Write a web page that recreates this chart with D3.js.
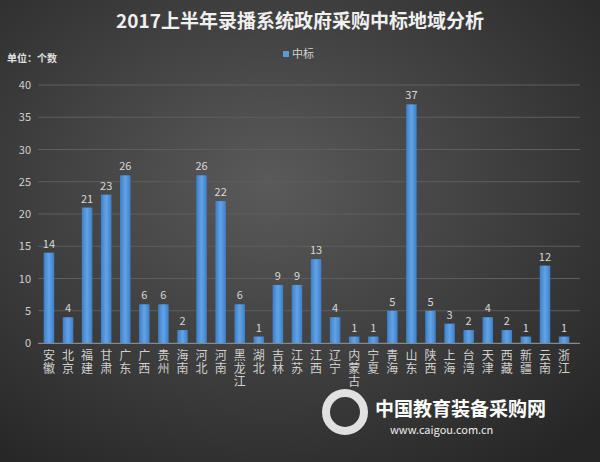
<!DOCTYPE html>
<html><head><meta charset="utf-8">
<script src="https://cdn.jsdelivr.net/npm/d3@7"></script>
<style>body{margin:0;background:#333}</style></head>
<body><svg id="c" width="600" height="462"></svg>
<script>
const categories=["安徽","北京","福建","甘肃","广东","广西","贵州","海南","河北","河南","黑龙江","湖北","吉林","江苏","江西","辽宁","内蒙古","宁夏","青海","山东","陕西","上海","台湾","天津","西藏","新疆","云南","浙江"];
const values=[14,4,21,23,26,6,6,2,26,22,6,1,9,9,13,4,1,1,5,37,5,3,2,4,2,1,12,1];
const yTicks=[0,5,10,15,20,25,30,35,40];
const svg=d3.select("#c");
const defs=svg.append("defs");
const rg=defs.append("radialGradient").attr("id","bg").attr("cx","45%").attr("cy","40%").attr("r","75%");
rg.append("stop").attr("offset","0%").attr("stop-color","#5a5a5a");
rg.append("stop").attr("offset","100%").attr("stop-color","#262626");
const bg2=defs.append("linearGradient").attr("id","bar").attr("x1","0").attr("x2","1");
bg2.append("stop").attr("offset","0%").attr("stop-color","#3d7fc6");
bg2.append("stop").attr("offset","50%").attr("stop-color","#62a3e8");
bg2.append("stop").attr("offset","100%").attr("stop-color","#3d7fc6");
svg.append("rect").attr("width",600).attr("height",462).attr("fill","url(#bg)");
const font="'Noto Sans CJK SC', sans-serif";
const x=d3.scaleBand().domain(categories).range([39.5,573.5]).paddingInner(0.45).paddingOuter(0.22);
const y=d3.scaleLinear().domain([0,40]).range([343,85]);
const g=svg.append("g");
g.selectAll("line.grid").data(yTicks).join("line").attr("x1",38).attr("x2",580).attr("y1",d=>y(d)).attr("y2",d=>y(d)).attr("stroke","#5e5e5e").attr("stroke-width",1);
g.selectAll("text.yt").data(yTicks).join("text").attr("x",31).attr("y",d=>y(d)+4).attr("text-anchor","end").attr("fill","#cfcfcf").attr("font-size",11).attr("font-family",font).text(d=>d);
g.selectAll("rect.b").data(values).join("rect").attr("x",(d,i)=>x(categories[i])).attr("width",x.bandwidth()).attr("y",d=>y(d)).attr("height",d=>y(0)-y(d)).attr("fill","url(#bar)");
g.selectAll("text.v").data(values).join("text").attr("x",(d,i)=>x(categories[i])+x.bandwidth()/2).attr("y",d=>y(d)-5).attr("text-anchor","middle").attr("fill","#d8d8d8").attr("font-size",11).attr("font-family",font).text(d=>d);
g.append("line").attr("x1",38).attr("x2",580).attr("y1",343.5).attr("y2",343.5).attr("stroke","#888");
g.selectAll("text.xl").data(categories).join("text")
  .attr("x",c=>x(c)+x.bandwidth()/2).attr("y",349)
  .attr("writing-mode","vertical-rl").attr("style","writing-mode:vertical-rl;letter-spacing:1px")
  .attr("fill","#d0d0d0").attr("font-size",12).attr("font-family",font).text(c=>c);
svg.append("text").attr("x",300).attr("y",28).attr("text-anchor","middle").attr("fill","#f0f0f0").attr("font-size",19).attr("font-weight","bold").attr("font-family",font).text("2017上半年录播系统政府采购中标地域分析");
svg.append("text").attr("x",7).attr("y",62).attr("fill","#e0e0e0").attr("font-size",10).attr("font-weight","bold").attr("font-family",font).text("单位：个数");
svg.append("rect").attr("x",283).attr("y",51).attr("width",6).attr("height",6).attr("fill","#5b9bd5");
svg.append("text").attr("x",292).attr("y",58).attr("fill","#d0d0d0").attr("font-size",11).attr("font-family",font).text("中标");
svg.append("circle").attr("cx",345).attr("cy",412).attr("r",19).attr("fill","none").attr("stroke","#ffffff").attr("stroke-width",8).attr("opacity",0.85);
svg.append("text").attr("x",375).attr("y",416).attr("fill","#ffffff").attr("font-size",19).attr("font-weight","bold").attr("font-family",font).text("中国教育装备采购网");
svg.append("text").attr("x",390).attr("y",434).attr("fill","#eeeeee").attr("font-size",11).attr("font-family",font).text("www.caigou.com.cn");
</script></body></html>
